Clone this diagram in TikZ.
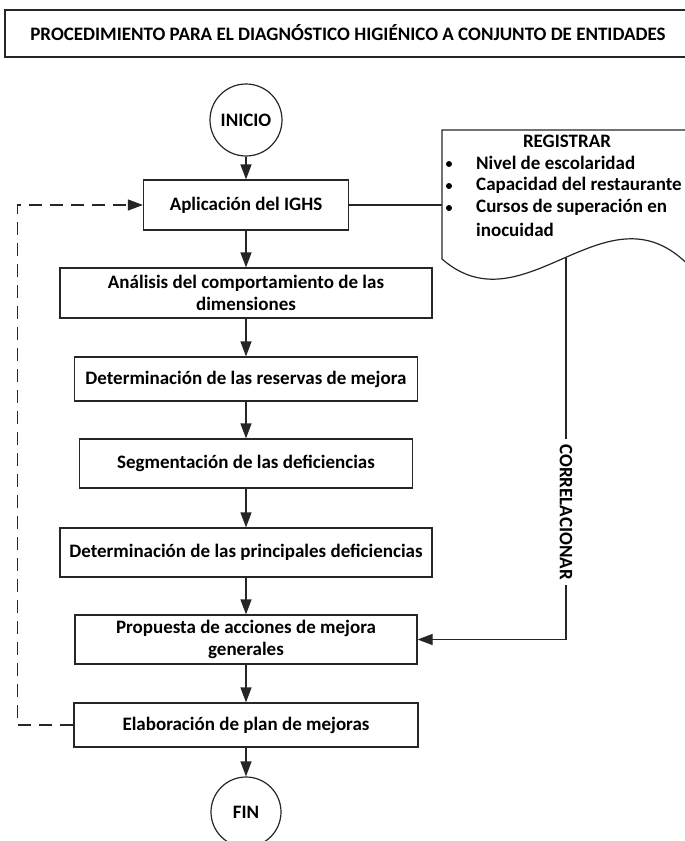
\documentclass[tikz,border=0pt]{standalone}
\usepackage{fontspec}
\setmainfont{Carlito}
\usetikzlibrary{arrows.meta}
\begin{document}
\begin{tikzpicture}[x=1pt,y=-1pt,
  font=\fontsize{19}{22}\selectfont\bfseries,
  every node/.style={inner sep=0pt},
  line/.style={line width=1.2pt, draw=black!85},
  stepbox/.style={line, draw, align=center, minimum height=#1},
  stepbox/.default=49pt,
  term/.style={line, draw, circle},
  dot/.style={circle, fill=black, minimum size=6pt},
  flow/.style={line, -{Triangle[length=15pt,width=11pt]}},
  loopback/.style={flow, dash pattern=on 13pt off 8pt}
]
\useasboundingbox (0,0) rectangle (685,841);

% title banner
\draw[line] (5,10) rectangle (700,57);
\node (title) at (348,33) {PROCEDIMIENTO PARA EL DIAGNÓSTICO HIGIÉNICO A CONJUNTO DE ENTIDADES};

% main flow
\node[term, minimum size=72pt] (ini) at (246,120) {INICIO};
\node[stepbox=50pt, minimum width=205pt] (apl) at (246,205) {Aplicación del IGHS};
\node[stepbox=50pt, minimum width=372pt] (ana) at (246,293) {Análisis del comportamiento de las\\dimensiones};
\node[stepbox=44pt, minimum width=343pt] (res) at (246,379) {Determinación de las reservas de mejora};
\node[stepbox, minimum width=333pt] (seg) at (246,463.5) {Segmentación de las deficiencias};
\node[stepbox, minimum width=372pt] (pri) at (246,552.5) {Determinación de las principales deficiencias};
\node[stepbox, minimum width=342pt] (pro) at (246,639.5) {Propuesta de acciones de mejora\\generales};
\node[stepbox=44pt, minimum width=344pt] (ela) at (246,725) {Elaboración de plan de mejoras};
\node[term, minimum size=70pt] (fin) at (246,812) {FIN};

\draw[flow] (ini) -- (apl);
\draw[flow] (apl) -- (ana);
\draw[flow] (ana) -- (res);
\draw[flow] (res) -- (seg);
\draw[flow] (seg) -- (pri);
\draw[flow] (pri) -- (pro);
\draw[flow] (pro) -- (ela);
\draw[flow] (ela) -- (fin);

% feedback loop
\draw[loopback] (ela.west) -- ++(-56,0) |- (apl.west);

% document symbol with the recorded data
\draw[line] (700,259) -- (700,130) -- (442,130) -- (442,259)
  .. controls (522,329) and (602,189) .. (682,259)
  .. controls (690,266) and (695,270) .. (700,272);
\coordinate (docL) at (442,205);
\coordinate (docB) at (566,257);
\node (reg) at (567,141) {REGISTRAR};
\node[dot] (b1) at (449,164) {};
\node[dot] (b2) at (449,186) {};
\node[dot] (b3) at (449,208) {};
\node[anchor=west] (i1) at (476,163) {Nivel de escolaridad};
\node[anchor=west] (i2) at (476,185) {Capacidad del restaurante};
\node[anchor=west] (i3) at (476,207) {Cursos de superación en};
\node[anchor=west] (i4) at (476,230) {inocuidad};

\draw[line] (apl.east) -- (docL);

% correlation link
\node[rotate=-90, inner xsep=5pt] (cor) at (566,512) {CORRELACIONAR};
\draw[line] (docB) -- (cor.west);
\draw[flow] (cor.east) |- (pro.east);
\end{tikzpicture}
\end{document}
